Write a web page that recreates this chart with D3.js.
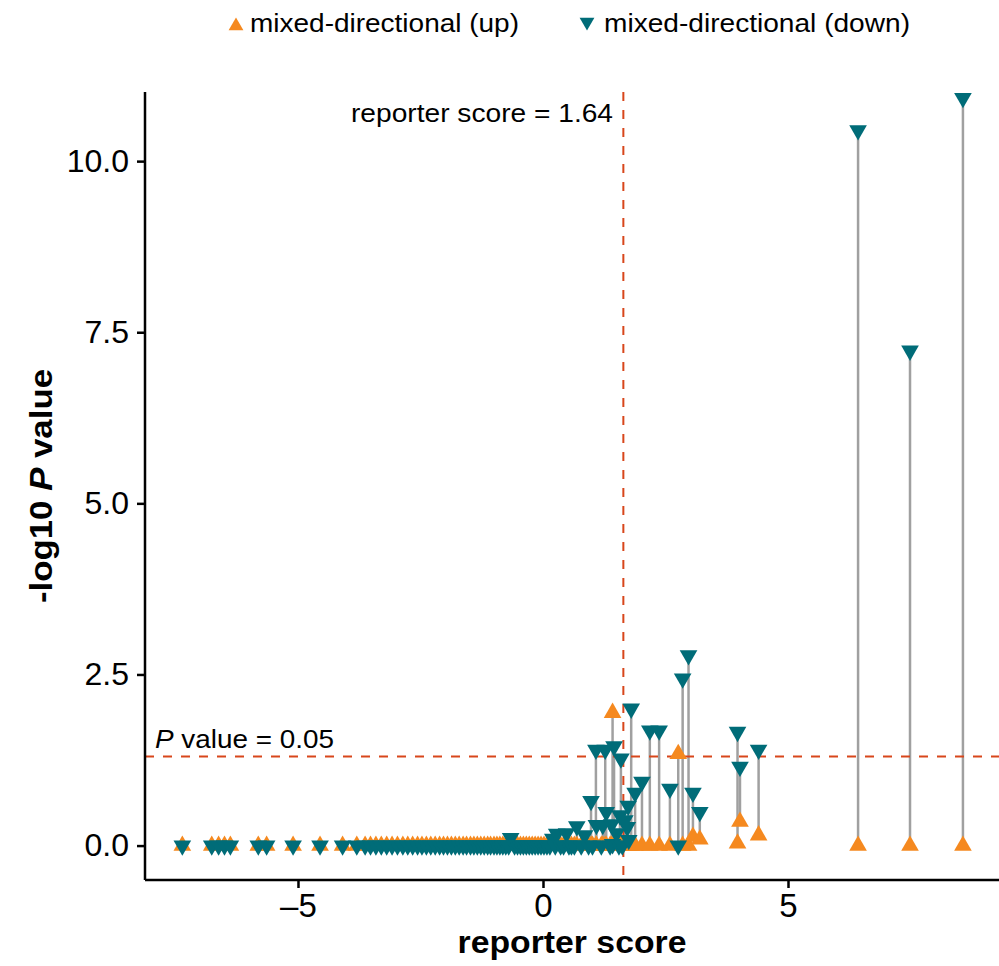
<!DOCTYPE html>
<html>
<head>
<meta charset="utf-8">
<script src="https://cdn.jsdelivr.net/npm/d3@7"></script>
<style>
  html, body { margin: 0; padding: 0; background: #fff; }
  svg { display: block; }
  text { font-family: "Liberation Sans", Arial, Helvetica, sans-serif; }
</style>
</head>
<body>
<svg id="chart" width="999" height="966"></svg>
<script>
// ---------- data ----------
const scores = [
  -7.36, -6.76, -6.62, -6.50, -6.38, -5.81, -5.64, -5.10, -4.55, -4.09, -3.80, -3.63,
  -3.52, -3.41, -3.30, -3.19, -3.08, -2.97, -2.86, -2.76, -2.66, -2.56, -2.47, -2.38,
  -2.29, -2.20, -2.11, -2.03, -1.95, -1.87, -1.79, -1.71, -1.63, -1.56, -1.48, -1.41,
  -1.34, -1.27, -1.20, -1.13, -1.07, -1.00, -0.94, -0.88, -0.82, -0.76, -0.70, -0.66,
  -0.58, -0.52, -0.46, -0.40, -0.34, -0.28, -0.22, -0.16, -0.10, -0.04, 0.02, 0.08,
  0.14, 0.20, 0.25, 0.28, 0.36, 0.42, 0.48, 0.53, 0.58, 0.64, 0.69, 0.78,
  0.85, 0.93, 0.98, 1.01, 1.08, 1.09, 1.19, 1.22, 1.27, 1.29, 1.37, 1.40,
  1.42, 1.45, 1.50, 1.55, 1.57, 1.59, 1.62, 1.67, 1.72, 1.74, 1.75, 1.80,
  1.88, 2.02, 2.18, 2.37, 2.59, 2.76, 2.85, 2.97, 3.06, 3.20, 3.97, 4.02,
  4.40, 6.43, 7.49, 8.57
];
const upValues = [
  0, 0, 0, 0, 0, 0, 0, 0, 0, 0, 0, 0,
  0, 0, 0, 0, 0, 0, 0, 0, 0, 0, 0, 0,
  0, 0, 0, 0, 0, 0, 0, 0, 0, 0, 0, 0,
  0, 0, 0, 0, 0, 0, 0, 0, 0, 0, 0, 0,
  0, 0, 0, 0, 0, 0, 0, 0, 0, 0, 0, 0,
  0, 0, 0, 0, 0, 0, 0, 0, 0, 0, 0, 0,
  0, 0, 0, 0, 0, 0, 0, 0, 0, 0, 0, 0,
  1.94, 0, 0, 0, 0, 0, 0, 0, 0, 0, 0, 0,
  0, 0, 0, 0, 0, 1.34, 0, 0, 0.13, 0.09, 0.03, 0.35,
  0.15, 0, 0, 0
];
const downValues = [
  0, 0, 0, 0, 0, 0, 0, 0, 0, 0, 0, 0,
  0, 0, 0, 0, 0, 0, 0, 0, 0, 0, 0, 0,
  0, 0, 0, 0, 0, 0, 0, 0, 0, 0, 0, 0,
  0, 0, 0, 0, 0, 0, 0, 0, 0, 0, 0, 0.11,
  0, 0, 0, 0, 0, 0, 0, 0, 0, 0, 0, 0,
  0, 0.10, 0, 0.17, 0, 0, 0.18, 0, 0, 0, 0.28, 0,
  0.15, 0, 0.65, 0, 1.40, 0.30, 0, 0.30, 1.40, 0.49, 0, 0.31,
  0.02, 1.45, 0.18, 0, 0.44, 1.27, 0, 0.37, 0.27, 0.58, 0.08, 2.00,
  0.77, 0.93, 1.68, 1.68, 0.83, 0, 2.44, 2.78, 0.77, 0.49, 1.66, 1.15,
  1.40, 10.45, 7.23, 10.92
];
const seriesNames = ["mixed-directional (up)", "mixed-directional (down)"];
const xTicks = [-5, 0, 5];
const yTicks = [0, 2.5, 5, 7.5, 10];
const scoreThreshold = 1.64;
const pThreshold = 0.05;

// ---------- layout ----------
const svg = d3.select("#chart");
const mLeft = 145, mRight = 999, mTop = 92, mBottom = 880;
const colUp = "#F5891F", colDown = "#006C78", colRef = "#D8461B", colSeg = "#A0A0A0";

const x = d3.scaleLinear().domain([-8.122, 9.306]).range([mLeft, mRight]);
const y = d3.scaleLinear().domain([-0.503, 11.01]).range([mBottom, mTop]);

const data = scores.map((s, i) => ({ s, up: upValues[i], down: downValues[i] }));

svg.append("defs").append("clipPath").attr("id", "panel")
  .append("rect").attr("x", mLeft).attr("y", mTop).attr("width", mRight - mLeft).attr("height", mBottom - mTop);

const g = svg.append("g").attr("clip-path", "url(#panel)");

// segments
g.selectAll("line.seg").data(data).enter().append("line")
  .attr("x1", d => x(d.s)).attr("x2", d => x(d.s))
  .attr("y1", d => y(d.up)).attr("y2", d => y(d.down))
  .attr("stroke", colSeg).attr("stroke-width", 2.5);

// reference lines
g.append("line")
  .attr("x1", mLeft).attr("x2", mRight)
  .attr("y1", y(-Math.log10(pThreshold))).attr("y2", y(-Math.log10(pThreshold)))
  .attr("stroke", colRef).attr("stroke-width", 2).attr("stroke-dasharray", "9,9");
g.append("line")
  .attr("x1", x(scoreThreshold)).attr("x2", x(scoreThreshold))
  .attr("y1", mTop).attr("y2", mBottom)
  .attr("stroke", colRef).attr("stroke-width", 2).attr("stroke-dasharray", "9,9");

const tri = d3.symbol().type(d3.symbolTriangle).size(135);

g.selectAll("path.up").data(data).enter().append("path")
  .attr("d", tri)
  .attr("transform", d => `translate(${x(d.s)},${y(d.up)})`)
  .attr("fill", colUp);

g.selectAll("path.down").data(data).enter().append("path")
  .attr("d", tri)
  .attr("transform", d => `translate(${x(d.s)},${y(d.down)}) rotate(180)`)
  .attr("fill", colDown);

// axes
const xAxis = d3.axisBottom(x).tickValues(xTicks).tickSize(8).tickPadding(6)
  .tickFormat(d => d < 0 ? "\u2013" + Math.abs(d) : String(d));
const gx = svg.append("g").attr("transform", `translate(0,${mBottom})`).call(xAxis);
gx.select(".domain").attr("d", `M${mLeft},0H${mRight}`).attr("stroke", "#000").attr("stroke-width", 2.5);
gx.selectAll(".tick line").attr("stroke", "#000").attr("stroke-width", 2.5);
gx.selectAll(".tick text").attr("font-size", 33).attr("fill", "#000")
  .attr("font-family", "Liberation Sans, Arial, sans-serif");

const yAxis = d3.axisLeft(y).tickValues(yTicks).tickSize(8).tickPadding(8)
  .tickFormat(d3.format(".1f"));
const gy = svg.append("g").attr("transform", `translate(${mLeft},0)`).call(yAxis);
gy.select(".domain").attr("d", `M0,${mTop}V${mBottom}`).attr("stroke", "#000").attr("stroke-width", 2.5);
gy.selectAll(".tick line").attr("stroke", "#000").attr("stroke-width", 2.5);
gy.selectAll(".tick text").attr("font-size", 32).attr("fill", "#000")
  .attr("font-family", "Liberation Sans, Arial, sans-serif");

// axis titles
svg.append("text")
  .attr("x", (mLeft + mRight) / 2).attr("y", 953)
  .attr("text-anchor", "middle").attr("font-size", 31).attr("font-weight", "bold")
  .attr("textLength", 229).attr("lengthAdjust", "spacingAndGlyphs")
  .text("reporter score");

const yt = svg.append("text")
  .attr("transform", `translate(52,${(mTop + mBottom) / 2}) rotate(-90)`)
  .attr("text-anchor", "middle").attr("font-size", 31).attr("font-weight", "bold")
  .attr("textLength", 234).attr("lengthAdjust", "spacingAndGlyphs");
yt.append("tspan").text("-log10 ");
yt.append("tspan").attr("font-style", "italic").text("P");
yt.append("tspan").text(" value");

// annotations
svg.append("text")
  .attr("x", 351).attr("y", 122)
  .attr("font-size", 25).attr("textLength", 262).attr("lengthAdjust", "spacingAndGlyphs")
  .text("reporter score = " + scoreThreshold.toFixed(2));

const pt = svg.append("text")
  .attr("x", 155).attr("y", 748)
  .attr("font-size", 25).attr("textLength", 179).attr("lengthAdjust", "spacingAndGlyphs");
pt.append("tspan").attr("font-style", "italic").text("P");
pt.append("tspan").text(" value = " + pThreshold.toFixed(2));

// legend
const legItems = [
  { name: seriesNames[0], color: colUp, rot: 0, tx: 236, lx: 250, len: 269 },
  { name: seriesNames[1], color: colDown, rot: 180, tx: 587, lx: 604, len: 306 }
];
const legTri = d3.symbol().type(d3.symbolTriangle).size(95);
legItems.forEach(it => {
  svg.append("path").attr("d", legTri)
    .attr("transform", `translate(${it.tx},${it.rot ? 22 : 26}) rotate(${it.rot})`)
    .attr("fill", it.color);
  svg.append("text").attr("x", it.lx).attr("y", 32)
    .attr("font-size", 25).attr("textLength", it.len).attr("lengthAdjust", "spacingAndGlyphs")
    .text(it.name);
});
</script>
</body>
</html>
